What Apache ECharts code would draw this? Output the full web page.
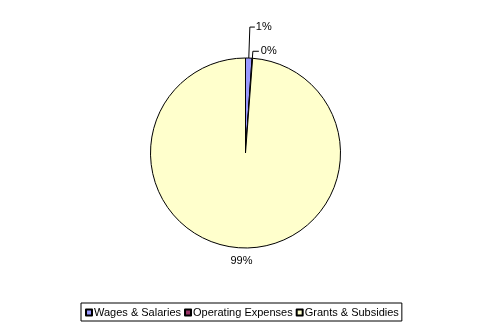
<!DOCTYPE html>
<html>
<head>
<meta charset="utf-8">
<script src="https://cdn.jsdelivr.net/npm/echarts@6/dist/echarts.min.js"></script>
<style>
html,body{margin:0;padding:0;background:#fff;}
#chart{width:491px;height:333px;}
</style>
</head>
<body>
<div id="chart"></div>
<script>
var categories = ['Wages & Salaries', 'Operating Expenses', 'Grants & Subsidies'];
var values = [1.1, 0.1, 98.8];
var colors = ['#9999FF', '#993366', '#FFFFCC'];

var FONT = 'Liberation Sans, Arial, sans-serif';
var lineCfg = [
  {length: 31, length2: 5, dist: 1, show: true},
  {length: 7, length2: 6, dist: 2, show: true},
  {length: 13, length2: 0, dist: 0, show: false}
];

var data = categories.map(function (c, i) {
  return {
    name: c,
    value: values[i],
    itemStyle: {color: colors[i]},
    label: {distanceToLabelLine: lineCfg[i].dist},
    labelLine: {show: lineCfg[i].show, length: lineCfg[i].length, length2: lineCfg[i].length2}
  };
});

var chart = echarts.init(document.getElementById('chart'), null, {renderer: 'canvas'});
chart.setOption({
  backgroundColor: '#ffffff',
  animation: false,
  legend: {
    data: categories,
    left: 81,
    top: 303,
    orient: 'horizontal',
    padding: [4, 3, 3, 4],
    borderColor: '#000',
    borderWidth: 1,
    itemWidth: 6,
    itemHeight: 6,
    itemGap: 3,
    icon: 'rect',
    selectedMode: false,
    textStyle: {fontFamily: FONT, fontSize: 11, color: '#000', padding: [0, 0, 0, -3]}
  },
  series: [{
    type: 'pie',
    center: [245.5, 153],
    radius: 95,
    startAngle: 90,
    clockwise: true,
    avoidLabelOverlap: false,
    itemStyle: {borderColor: '#000', borderWidth: 1},
    emphasis: {disabled: true},
    label: {
      show: true,
      position: 'outside',
      fontFamily: FONT,
      fontSize: 11,
      color: '#000',
      formatter: function (p) { return Math.round(p.percent) + '%'; }
    },
    labelLine: {lineStyle: {color: '#000', width: 1}, smooth: false},
    labelLayout: function (p) {
      if (p.dataIndex === 2) { return {align: 'center'}; }
      return {};
    },
    data: data
  }]
});
</script>
</body>
</html>
